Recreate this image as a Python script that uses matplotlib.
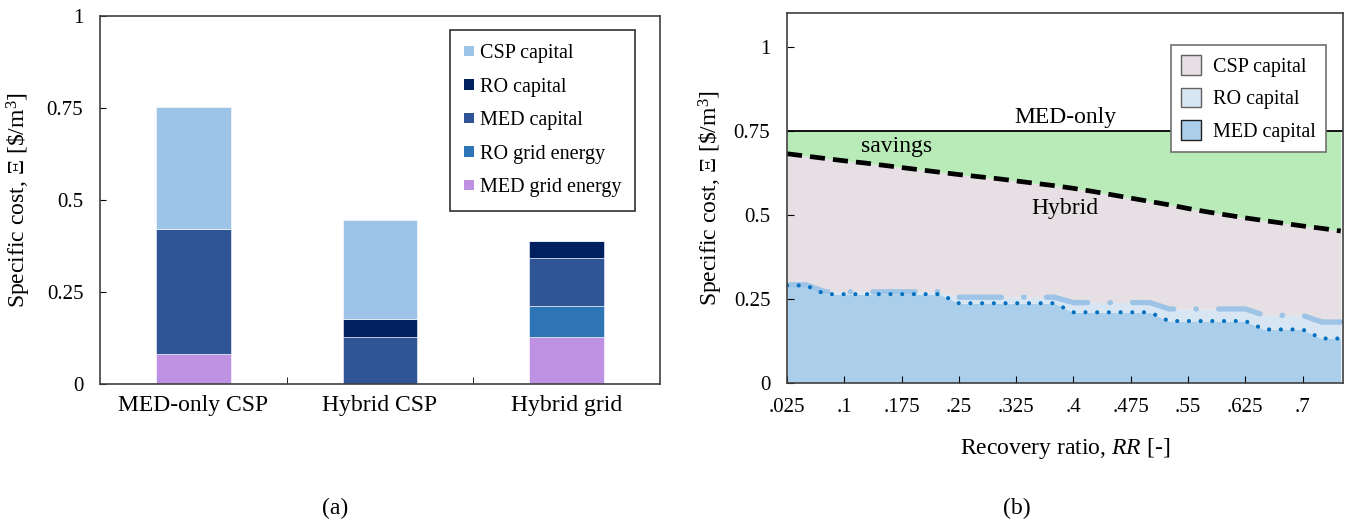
import numpy as np
import matplotlib
matplotlib.use('Agg')
import matplotlib.pyplot as plt
from matplotlib.patches import Patch

plt.rcParams['font.family'] = 'Liberation Serif'
plt.rcParams['mathtext.fontset'] = 'custom'
plt.rcParams['mathtext.rm'] = 'Liberation Serif'
plt.rcParams['mathtext.it'] = 'Liberation Serif:italic'

# ---- panel (a): stacked bars
categories = ['MED-only CSP', 'Hybrid CSP', 'Hybrid grid']
med_grid = [0.082, 0.0, 0.129]
ro_grid = [0.0, 0.0, 0.082]
med_cap = [0.338, 0.127, 0.131]
ro_cap = [0.0, 0.049, 0.047]
csp_cap = [0.334, 0.269, 0.0]

# ---- panel (b): cost vs recovery ratio
rr = [0.025, 0.05, 0.075, 0.1, 0.125, 0.15, 0.175, 0.2, 0.225, 0.25,
      0.275, 0.3, 0.325, 0.35, 0.375, 0.4, 0.425, 0.45, 0.475, 0.5,
      0.525, 0.55, 0.575, 0.6, 0.625, 0.65, 0.675, 0.7, 0.725, 0.75]
med_capital = [0.289, 0.289, 0.263, 0.263, 0.263, 0.263, 0.263, 0.263, 0.263, 0.236,
               0.236, 0.236, 0.236, 0.236, 0.236, 0.209, 0.209, 0.209, 0.209, 0.209,
               0.183, 0.183, 0.183, 0.183, 0.183, 0.158, 0.158, 0.158, 0.131, 0.131]
ro_capital = [0.002, 0.002, 0.007, 0.007, 0.007, 0.007, 0.007, 0.007, 0.007, 0.018,
              0.018, 0.018, 0.018, 0.018, 0.018, 0.029, 0.029, 0.029, 0.029, 0.029,
              0.036, 0.036, 0.036, 0.036, 0.036, 0.042, 0.042, 0.042, 0.049, 0.049]
hybrid_total = [0.681, 0.674, 0.667, 0.660, 0.654, 0.647, 0.640, 0.633, 0.626, 0.619,
                0.613, 0.607, 0.600, 0.593, 0.586, 0.578, 0.569, 0.559, 0.549, 0.539,
                0.529, 0.518, 0.508, 0.499, 0.490, 0.482, 0.474, 0.466, 0.459, 0.451]
med_only = 0.75

fig = plt.figure(figsize=(13.46, 5.2), dpi=100)

ylab = r'Specific cost, $\mathit{Ξ}$ [\$/m$^3$]'

# ================= (a)
ax1 = fig.add_axes([0.0743, 0.2615, 0.4160, 0.7077])
x = np.arange(len(categories))
w = 0.4
stack = [('MED grid energy', med_grid, '#bf91e3'),
         ('RO grid energy', ro_grid, '#2e75b6'),
         ('MED capital', med_cap, '#2f5597'),
         ('RO capital', ro_cap, '#002060'),
         ('CSP capital', csp_cap, '#9dc3e6')]
bottom = np.zeros(len(categories))
handles = []
for name, vals, col in stack:
    ax1.bar(x, vals, w, bottom=bottom, color=col, edgecolor='white', linewidth=0.4)
    bottom += np.array(vals)
    handles.append(Patch(facecolor=col, edgecolor='none', label=name))

ax1.set_xlim(-0.5, 2.5)
ax1.set_ylim(0, 1)
ax1.set_yticks([0, 0.25, 0.5, 0.75, 1])
ax1.set_yticklabels(['0', '0.25', '0.5', '0.75', '1'])
ax1.set_xticks(x)
ax1.set_xticklabels(categories, fontsize=17)
ax1.set_xticks([0.5, 1.5], minor=True)
ax1.tick_params(axis='x', which='major', length=0, pad=8)
ax1.tick_params(axis='x', which='minor', direction='in', length=5)
ax1.tick_params(axis='y', direction='in', length=4, labelsize=15, pad=12)
ax1.set_ylabel(ylab, fontsize=17, labelpad=10)
for s in ax1.spines.values():
    s.set_color('#404040')
    s.set_linewidth(1.2)

leg1 = ax1.legend(handles=handles[::-1], loc='upper right', bbox_to_anchor=(0.956, 0.962),
                  fontsize=14.5, frameon=True, fancybox=False, edgecolor='#303030',
                  framealpha=1, handlelength=0.5, handleheight=0.45, handletextpad=0.3,
                  labelspacing=0.72, borderpad=0.7, borderaxespad=0)
leg1.get_frame().set_linewidth(1.2)

# ================= (b)
ax2 = fig.add_axes([0.5847, 0.2644, 0.4131, 0.7106])
med_arr = np.array(med_capital)
ro_top = med_arr + np.array(ro_capital)
hyb = np.array(hybrid_total)

ax2.fill_between(rr, 0, med_arr, color='#abcfea', lw=0)
ax2.fill_between(rr, med_arr, ro_top, color='#d8e6f4', lw=0)
ax2.fill_between(rr, ro_top, hyb, color='#e6e0e4', lw=0)
ax2.fill_between(rr, hyb, med_only, color='#b8ebb8', lw=0)
ax2.axhline(med_only, color='black', lw=1.3)
ax2.plot(rr, ro_top, color='#9dc3e6', lw=3.8, linestyle=(0, (8, 4.2, 0.1, 4.2)),
         dash_capstyle='round', solid_capstyle='round')
ax2.plot(rr, med_arr, color='#0070c0', lw=3.0, linestyle=(0, (0.01, 2.8)),
         dash_capstyle='round')
ax2.plot(rr, hyb, color='black', lw=3.4, linestyle=(0, (3.2, 1.7)))

ax2.text(0.389, 0.79, 'MED-only', fontsize=17, ha='center', va='center')
ax2.text(0.169, 0.702, 'savings', fontsize=17, ha='center', va='center')
ax2.text(0.389, 0.519, 'Hybrid', fontsize=17, ha='center', va='center')

ax2.set_xlim(0.025, 0.753)
ax2.set_ylim(0, 1.1)
xt = np.arange(0.025, 0.71, 0.075)
ax2.set_xticks(xt)
ax2.set_xticklabels([('%.3f' % t).rstrip('0').lstrip('0') for t in xt])
ax2.set_yticks([0, 0.25, 0.5, 0.75, 1])
ax2.set_yticklabels(['0', '0.25', '0.5', '0.75', '1'])
ax2.tick_params(axis='both', direction='in', length=5, labelsize=15)
ax2.tick_params(axis='x', pad=11)
ax2.tick_params(axis='y', pad=12)
ax2.set_xlabel(r'Recovery ratio, $\mathit{RR}$ [-]', fontsize=17, labelpad=14)
ax2.set_ylabel(ylab, fontsize=17, labelpad=6)
for s in ax2.spines.values():
    s.set_color('#404040')
    s.set_linewidth(1.2)

h2 = [Patch(facecolor='#e6e0e4', edgecolor='#606060', label='CSP capital'),
      Patch(facecolor='#d8e6f4', edgecolor='#606060', label='RO capital'),
      Patch(facecolor='#abcfea', edgecolor='#202020', label='MED capital')]
leg2 = ax2.legend(handles=h2, loc='upper right', bbox_to_anchor=(0.969, 0.913),
                  fontsize=14.5, frameon=True, fancybox=False, edgecolor='#707070',
                  framealpha=1, handlelength=1.0, handleheight=1.1, handletextpad=0.6,
                  labelspacing=0.55, borderpad=0.5, borderaxespad=0)
leg2.get_frame().set_linewidth(1.2)

fig.text(335 / 1346, 1 - 508 / 520, '(a)', fontsize=17, ha='center', va='center')
fig.text(1017 / 1346, 1 - 508 / 520, '(b)', fontsize=17, ha='center', va='center')

fig.savefig('out.png', dpi=100)
